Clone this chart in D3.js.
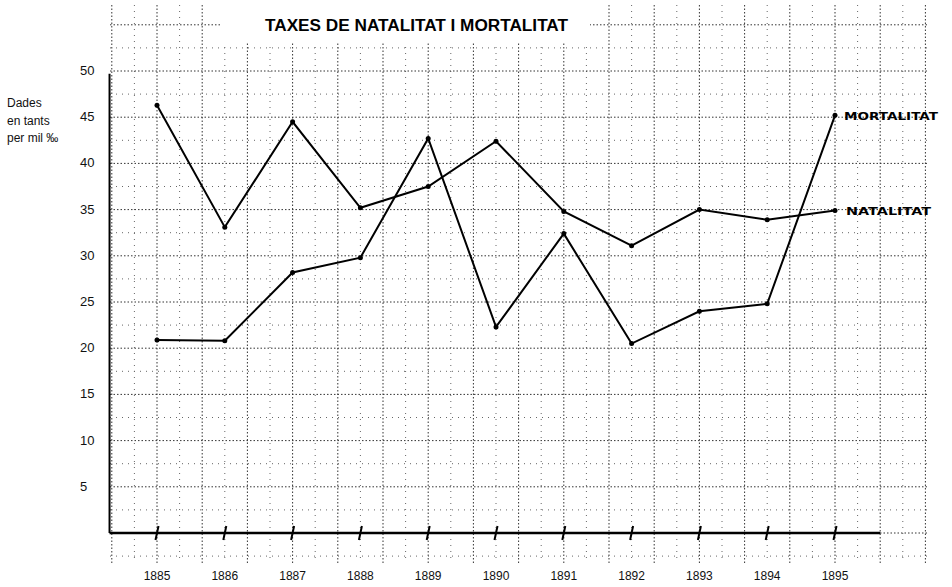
<!DOCTYPE html>
<html>
<head>
<meta charset="utf-8">
<script src="https://cdn.jsdelivr.net/npm/d3@7"></script>
<style>
	body { margin: 0; background: #fff; }
	svg { display: block; }
</style>
</head>
<body>
<svg id="chart" width="952" height="587"></svg>
<script>
// data

var years = [1885, 1886, 1887, 1888, 1889, 1890, 1891, 1892, 1893, 1894, 1895];
var natalitat = [46.3, 33.1, 44.5, 35.2, 37.5, 42.4, 34.8, 31.1, 35.0, 33.9, 34.9];
var mortalitat = [20.9, 20.8, 28.2, 29.8, 42.7, 22.3, 32.4, 20.5, 24.0, 24.8, 45.2];
var yTicks = [5, 10, 15, 20, 25, 30, 35, 40, 45, 50];
var yTitle = ['Dades', 'en tants', 'per mil ‰'];

var svg = d3.select('svg#chart');

var xScale = d3.scaleLinear().domain([1885, 1895]).range([157, 835]);
var yScale = d3.scaleLinear().domain([0, 50]).range([533, 71]);

// 1. graph paper

var grid = svg.append('g');

grid.selectAll('line.v')
	.data(d3.range(-2, 35))
	.enter()
	.append('line')
	.attr('class', 'v')
	.attr('x1', function (k) { return xScale(1885 + k / 3); })
	.attr('x2', function (k) { return xScale(1885 + k / 3); })
	.attr('y1', 5)
	.attr('y2', 563)
	.style('stroke', function (k) { return k % 2 == 0 ? '#333' : '#666'; })
	.style('stroke-width', 1)
	.style('stroke-dasharray', function (k) { return k % 2 == 0 ? '1.5,2' : '1,5'; });

grid.selectAll('line.h')
	.data(d3.range(-1, 23))
	.enter()
	.append('line')
	.attr('class', 'h')
	.attr('x1', 110)
	.attr('x2', 928)
	.attr('y1', function (k) { return yScale(k * 2.5); })
	.attr('y2', function (k) { return yScale(k * 2.5); })
	.style('stroke', function (k) { return k % 2 == 0 ? '#333' : '#666'; })
	.style('stroke-width', 1)
	.style('stroke-dasharray', function (k) { return k % 2 == 0 ? '1.5,2' : '1,5'; });

// blank patch of paper behind the title
svg.append('rect')
	.attr('x', 222)
	.attr('y', 0)
	.attr('width', 368)
	.attr('height', 42)
	.style('fill', '#fff');

svg.append('text')
	.text('TAXES DE NATALITAT I MORTALITAT')
	.attr('x', 265)
	.attr('y', 31)
	.attr('textLength', 303)
	.attr('lengthAdjust', 'spacingAndGlyphs')
	.style('font-family', 'Liberation Sans, Arial, sans-serif')
	.style('font-weight', 'bold')
	.style('font-size', '16px')
	.style('fill', '#000');

// 2. axes

var x0 = xScale(1884.3);
var x1 = xScale(1885 + 32 / 3);

svg.append('line')
	.attr('x1', x0)
	.attr('x2', x0)
	.attr('y1', yScale(49.7))
	.attr('y2', yScale(0))
	.style('stroke', '#000')
	.style('stroke-width', 2);

svg.append('line')
	.attr('x1', x0)
	.attr('x2', x1)
	.attr('y1', yScale(0))
	.attr('y2', yScale(0))
	.style('stroke', '#000')
	.style('stroke-width', 2.5);

svg.selectAll('line.tick')
	.data(years)
	.enter()
	.append('line')
	.attr('class', 'tick')
	.attr('x1', function (d) { return xScale(d) - 1.5; })
	.attr('x2', function (d) { return xScale(d) + 1.5; })
	.attr('y1', yScale(0) + 7)
	.attr('y2', yScale(0) - 7)
	.style('stroke', '#000')
	.style('stroke-width', 2);

svg.selectAll('text.year')
	.data(years)
	.enter()
	.append('text')
	.attr('class', 'year')
	.text(function (d) { return d; })
	.attr('x', function (d) { return xScale(d); })
	.attr('y', 580)
	.style('text-anchor', 'middle')
	.style('font-family', 'Liberation Sans, Arial, sans-serif')
	.style('font-size', '12px')
	.style('fill', '#111');

svg.selectAll('text.ylab')
	.data(yTicks)
	.enter()
	.append('text')
	.attr('class', 'ylab')
	.text(function (d) { return d; })
	.attr('x', 80)
	.attr('y', function (d) { return yScale(d) + 4; })
	.style('font-family', 'Liberation Sans, Arial, sans-serif')
	.style('font-size', '13px')
	.style('fill', '#111');

svg.selectAll('text.ytitle')
	.data(yTitle)
	.enter()
	.append('text')
	.attr('class', 'ytitle')
	.text(function (d) { return d; })
	.attr('x', 7)
	.attr('y', function (d, i) { return 107 + i * 17.5; })
	.style('font-family', 'Liberation Sans, Arial, sans-serif')
	.style('font-size', '12px')
	.style('fill', '#111');

// 3. the two series

var line = d3.line()
	.x(function (d, i) { return xScale(years[i]); })
	.y(function (d) { return yScale(d); });

[natalitat, mortalitat].forEach(function (series) {
	svg.append('path')
		.datum(series)
		.attr('d', line)
		.style('fill', 'none')
		.style('stroke', '#000')
		.style('stroke-width', 2);

	svg.append('g')
		.selectAll('circle')
		.data(series)
		.enter()
		.append('circle')
		.attr('cx', function (d, i) { return xScale(years[i]); })
		.attr('cy', function (d) { return yScale(d); })
		.attr('r', 2.5)
		.style('fill', '#000');
});

// hand lettered labels at the end of each line
var last = years.length - 1;

svg.append('text')
	.text('MORTALITAT')
	.attr('x', xScale(years[last]) + 9)
	.attr('y', yScale(mortalitat[last]) + 4.5)
	.attr('textLength', 94)
	.attr('lengthAdjust', 'spacingAndGlyphs')
	.style('font-family', 'DejaVu Sans, sans-serif')
	.style('font-weight', 'bold')
	.style('font-size', '11px')
	.style('fill', '#000');

svg.append('text')
	.text('NATALITAT')
	.attr('x', xScale(years[last]) + 11)
	.attr('y', yScale(natalitat[last]) + 4.5)
	.attr('textLength', 85)
	.attr('lengthAdjust', 'spacingAndGlyphs')
	.style('font-family', 'DejaVu Sans, sans-serif')
	.style('font-weight', 'bold')
	.style('font-size', '11px')
	.style('fill', '#000');
</script>
</body>
</html>
